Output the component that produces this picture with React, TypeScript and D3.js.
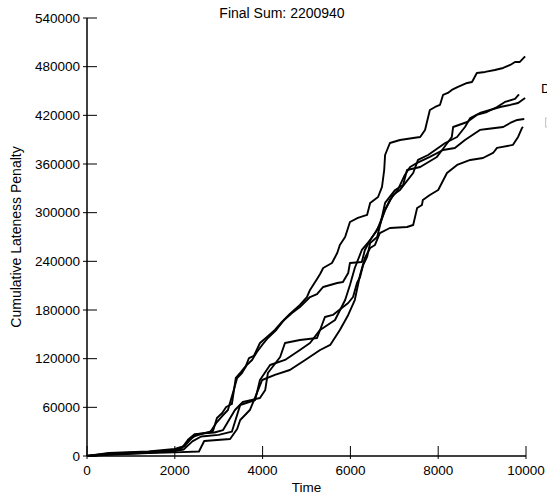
import React from 'react';
import * as d3 from 'd3';

// cumulative lateness penalty, one array of [time, penalty] per run
const runA = [
  [0, 0], [500, 3700], [1400, 5500], [2000, 8600], [2230, 12300], [2390, 23400], [2690, 28400],
  [2870, 30800], [2960, 46900], [3080, 53000], [3170, 60400], [3300, 64100], [3390, 96200],
  [3510, 103600], [3620, 111000], [3690, 120800], [3800, 123300], [3940, 139300], [4100, 146700],
  [4280, 155400], [4440, 165200], [4620, 175100], [4850, 186200], [5010, 196000], [5080, 204700],
  [5240, 218200], [5310, 224400], [5380, 231800], [5580, 238000], [5700, 250300], [5760, 260200],
  [5880, 270000], [5990, 288500], [6170, 293500], [6380, 297200], [6450, 311900], [6630, 319300],
  [6720, 331700], [6770, 352600], [6790, 371100], [6900, 385900], [7130, 389600], [7430, 392100],
  [7590, 393300], [7700, 402000], [7810, 426600], [7930, 430300], [8040, 432800], [8110, 445100],
  [8220, 447600], [8310, 451300], [8450, 455000], [8660, 459900], [8770, 461100], [8880, 472200],
  [9070, 473500], [9290, 475900], [9480, 478400], [9640, 482100], [9750, 485800], [9860, 485800],
  [9980, 492600],
];

const runB = [
  [0, 0], [500, 2500], [1400, 4500], [2000, 6500], [2150, 9000], [2300, 20000], [2450, 27000],
  [2900, 29000], [3100, 32000], [3370, 56700], [3550, 66600], [3940, 71500], [4060, 81400],
  [4120, 102300], [4400, 122100], [4510, 139300], [4850, 143000], [5240, 145500], [5420, 171400],
  [5600, 173900], [5950, 188600], [6060, 196000], [6150, 213300], [6220, 220700], [6290, 235500],
  [6380, 245400], [6450, 262600], [6610, 270000], [6700, 290000], [6790, 312000], [7020, 328000],
  [7200, 334100], [7290, 352600], [7590, 356300], [7970, 368700], [8090, 377300], [8310, 393300],
  [8340, 405600], [8660, 411800], [8880, 420500], [9110, 424100], [9340, 430300], [9520, 436500],
  [9750, 440200], [9840, 445700],
];

const runC = [
  [0, 0], [500, 2000], [1400, 4000], [2000, 6000], [2200, 8000], [2400, 18000], [2600, 24000],
  [3000, 26000], [3300, 30000], [3490, 62900], [3830, 69000], [3940, 93700], [4170, 112200],
  [4510, 118400], [4850, 130700], [5080, 139300], [5310, 155400], [5650, 167700], [5880, 192300],
  [5990, 210800], [6100, 231800], [6260, 254000], [6450, 266300], [6610, 278700], [6790, 303300],
  [6970, 321800], [7130, 328000], [7430, 348900], [7540, 365000], [7770, 371100], [8160, 385900],
  [8430, 393300], [8610, 405600], [8730, 416700], [8950, 422900], [9180, 426600], [9410, 430300],
  [9640, 432800], [9820, 435200], [9980, 441400],
];

const runD = [
  [0, 0], [500, 3000], [1400, 5000], [2000, 7500], [2200, 12000], [2350, 20000], [2500, 27000],
  [2800, 29000], [2960, 41900], [3080, 49300], [3210, 56700], [3330, 78900], [3420, 96200],
  [3530, 102300], [3640, 112200], [3760, 118400], [3870, 128200], [3990, 136900], [4120, 145500],
  [4310, 155400], [4490, 167700], [4670, 176300], [4850, 183700], [5080, 196000], [5240, 199700],
  [5380, 208400], [5700, 213300], [5830, 214500], [5950, 225600], [5990, 238000], [6260, 239200],
  [6330, 254000], [6450, 266300], [6560, 274900], [6670, 284800], [6790, 303300], [6900, 315600],
  [7080, 328000], [7240, 346500], [7360, 356300], [7520, 361300], [7810, 368700], [8110, 377300],
  [8380, 379800], [8610, 389600], [8950, 402000], [9110, 403200], [9480, 405600], [9640, 410600],
  [9800, 414300], [9960, 415500],
];

const runE = [
  [0, 0], [500, 1500], [1400, 3500], [2000, 4500], [2550, 5500], [2670, 18500], [3260, 21000],
  [3420, 33300], [3490, 44400], [3710, 56700], [3900, 81400], [3990, 93700], [4280, 99900],
  [4620, 106000], [4970, 118400], [5310, 130700], [5540, 136900], [5760, 155400], [5950, 173900],
  [6100, 192300], [6220, 223200], [6330, 244100], [6450, 256400], [6560, 260200], [6670, 274900],
  [6900, 281100], [7290, 282300], [7430, 284800], [7520, 305800], [7630, 309500], [7650, 315600],
  [7810, 321800], [8000, 328000], [8200, 348900], [8430, 358800], [8730, 365000], [9020, 367400],
  [9250, 373600], [9340, 379800], [9700, 383500], [9820, 393300], [9910, 404400], [9930, 405700],
];

const runs = [runA, runB, runC, runD, runE];
const xTicks = [0, 2000, 4000, 6000, 8000, 10000];
const yTicks = [0, 60000, 120000, 180000, 240000, 300000, 360000, 420000, 480000, 540000];
const finalSum = 2200940;

const W = 547;
const H = 497;
const left = 87;
const right = 526;
const top = 18;
const bottom = 456;
const font = '"Liberation Sans", Arial, Helvetica, sans-serif';

export default function App() {
  const x = d3.scaleLinear().domain([0, 10000]).range([left, right]);
  const y = d3.scaleLinear().domain([0, 540000]).range([bottom, top]);
  const line = d3
    .line<number[]>()
    .x((d) => x(d[0]))
    .y((d) => y(d[1]));

  return (
    <svg
      width={W}
      height={H}
      style={{ position: 'fixed', left: 0, top: 0, background: '#fff' }}
      fontFamily={font}
    >
      <rect width={W} height={H} fill="#fff" />
      <text x={282} y={18} fontSize={14} textAnchor="middle">
        Final Sum: {finalSum}
      </text>

      {runs.map((r, i) => (
        <path key={i} d={line(r) || ''} fill="none" stroke="#000" strokeWidth={1.9} strokeLinejoin="round" />
      ))}

      {/* axes */}
      <line x1={left} x2={left} y1={top} y2={bottom} stroke="#000" strokeWidth={1.5} />
      <line x1={left} x2={right} y1={bottom} y2={bottom} stroke="#000" strokeWidth={1.5} />
      {yTicks.map((t) => (
        <g key={t}>
          <line x1={left - 4} x2={left + 10} y1={y(t)} y2={y(t)} stroke="#000" strokeWidth={1} />
          <text x={80} y={y(t)} dy="0.35em" fontSize={13.5} textAnchor="end">
            {t}
          </text>
        </g>
      ))}
      {xTicks.map((t) => (
        <g key={t}>
          <line x1={x(t)} x2={x(t)} y1={bottom - 10} y2={bottom + 3} stroke="#000" strokeWidth={1} />
          <text x={x(t)} y={475} fontSize={13.5} textAnchor="middle">
            {t}
          </text>
        </g>
      ))}
      <text x={(left + right) / 2} y={492} fontSize={13.5} textAnchor="middle">
        Time
      </text>
      <text
        transform={`translate(21, ${(top + bottom) / 2}) rotate(-90)`}
        fontSize={14}
        textAnchor="middle"
      >
        Cumulative Lateness Penalty
      </text>

      {/* legend, mostly cut off at the right edge as in the original */}
      <text x={541} y={93} fontSize={13.5}>
        D
      </text>
      <rect x={545.5} y={118} width={10} height={9} fill="#f6f6f6" stroke="#c8c8c8" />
    </svg>
  );
}
